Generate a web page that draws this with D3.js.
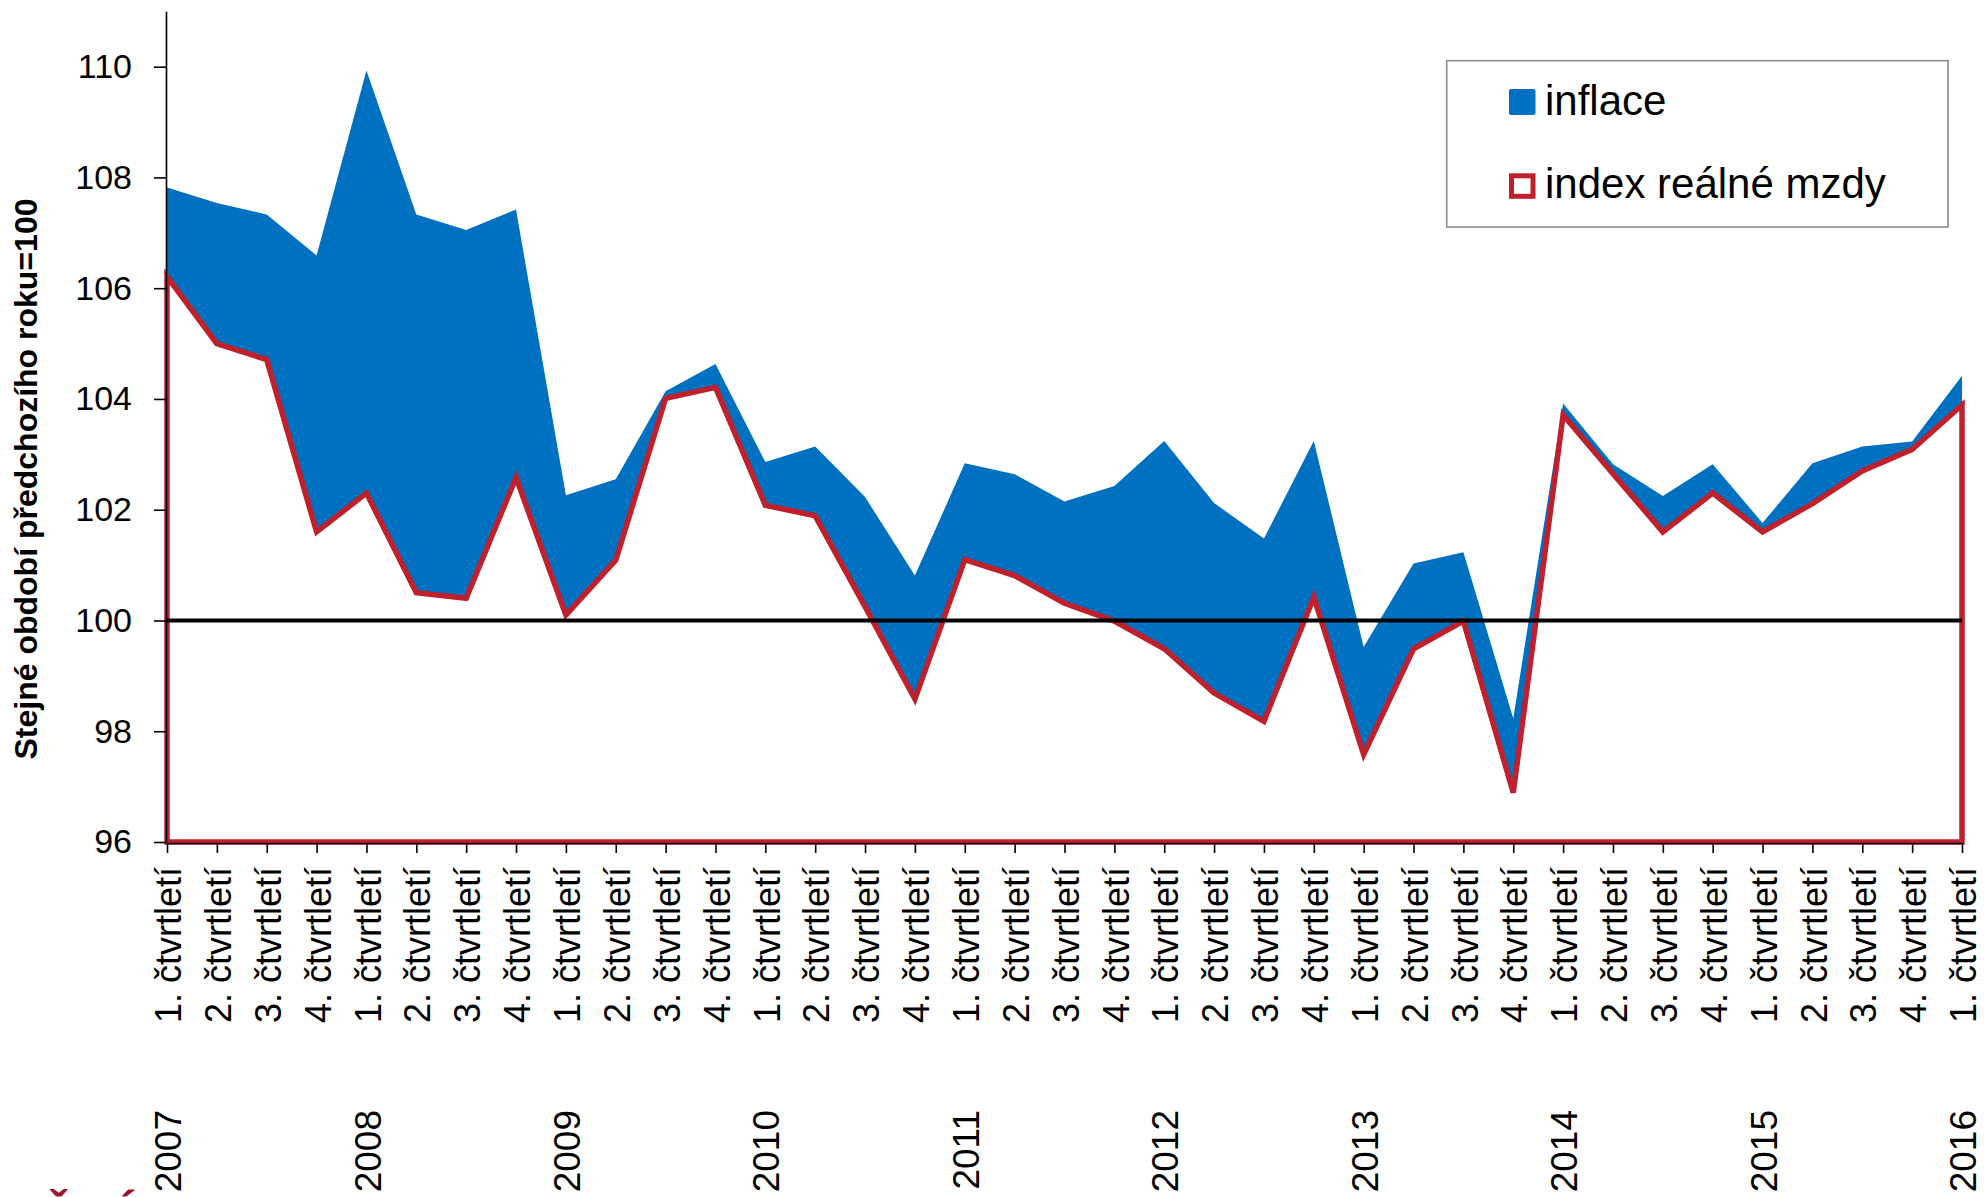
<!DOCTYPE html>
<html>
<head>
<meta charset="utf-8">
<script src="https://cdn.jsdelivr.net/npm/d3@7"></script>
<style>
  html, body { margin: 0; padding: 0; background: #ffffff; }
  svg { display: block; }
  text { font-family: "Liberation Sans", Arial, sans-serif; fill: #000; }
</style>
</head>
<body>
<svg id="chart" width="1984" height="1197"></svg>
<script>
// ---- data ----
const quarterLabels = [
  "1. čtvrtletí","2. čtvrtletí","3. čtvrtletí","4. čtvrtletí",
  "1. čtvrtletí","2. čtvrtletí","3. čtvrtletí","4. čtvrtletí",
  "1. čtvrtletí","2. čtvrtletí","3. čtvrtletí","4. čtvrtletí",
  "1. čtvrtletí","2. čtvrtletí","3. čtvrtletí","4. čtvrtletí",
  "1. čtvrtletí","2. čtvrtletí","3. čtvrtletí","4. čtvrtletí",
  "1. čtvrtletí","2. čtvrtletí","3. čtvrtletí","4. čtvrtletí",
  "1. čtvrtletí","2. čtvrtletí","3. čtvrtletí","4. čtvrtletí",
  "1. čtvrtletí","2. čtvrtletí","3. čtvrtletí","4. čtvrtletí",
  "1. čtvrtletí","2. čtvrtletí","3. čtvrtletí","4. čtvrtletí",
  "1. čtvrtletí"
];
const yearLabels = ["2007","2008","2009","2010","2011","2012","2013","2014","2015","2016"];
const yearStartIndex = [0, 4, 8, 12, 16, 20, 24, 28, 32, 36];

// top of blue area (nominal wage index, "inflace" band above real)
const inflace = [
  107.82, 107.54, 107.33, 106.59,
  109.93, 107.33, 107.05, 107.42,
  102.26, 102.55, 104.14, 104.63,
  102.86, 103.14, 102.23, 100.81,
  102.84, 102.64, 102.15, 102.43,
  103.24, 102.12, 101.48, 103.24,
  99.52, 101.03, 101.23, 98.23,
  103.92, 102.82, 102.25, 102.82,
  101.76, 102.84, 103.14, 103.23,
  104.42
];
// index reálné mzdy
const realnaMzda = [
  106.21, 105.00, 104.71, 101.60,
  102.30, 100.50, 100.40, 102.58,
  100.10, 101.09, 104.01, 104.21,
  102.08, 101.89, 100.25, 98.58,
  101.10, 100.81, 100.31, 99.99,
  99.49, 98.69, 98.18, 100.42,
  97.58, 99.49, 99.99, 96.89,
  103.71, 102.65, 101.60, 102.30,
  101.60, 102.11, 102.70, 103.09,
  103.89
];
const yTicks = [96, 98, 100, 102, 104, 106, 108, 110];
const seriesNames = ["inflace", "index reálné mzdy"];
const yTitle = "Stejné období předchozího roku=100";
const cornerMark = "ČSÚ";

// ---- layout ----
const svg = d3.select("#chart");
const BLUE = "#0070C0";
const RED = "#C0202B";

const x = d3.scalePoint()
  .domain(d3.range(quarterLabels.length))
  .range([167, 1962]);
const y = d3.scaleLinear().domain([96, 111]).range([842, 11.3]);

// blue area
const area = d3.area()
  .x((d, i) => x(i))
  .y0(y(96))
  .y1(d => y(d));
svg.append("path")
  .datum(inflace)
  .attr("d", area)
  .attr("fill", BLUE);

// red outlined, white filled area
svg.append("path")
  .datum(realnaMzda)
  .attr("d", area)
  .attr("fill", "#ffffff")
  .attr("stroke", RED)
  .attr("stroke-width", 5.5)
  .attr("stroke-linejoin", "miter");

// 100 reference line
svg.append("line")
  .attr("x1", x(0)).attr("x2", x(quarterLabels.length - 1))
  .attr("y1", y(100)).attr("y2", y(100))
  .attr("stroke", "#000").attr("stroke-width", 3.8);

// y axis
const yAxis = svg.append("g")
  .attr("transform", "translate(166,0)")
  .call(d3.axisLeft(y).tickValues(yTicks).tickSize(12).tickSizeOuter(0).tickPadding(22));
yAxis.select(".domain").attr("stroke", "#000").attr("stroke-width", 1.6);
yAxis.selectAll(".tick line").attr("stroke", "#000").attr("stroke-width", 1.6);
yAxis.selectAll(".tick text")
  .style("font-size", "34px")
  .style("font-family", "'Liberation Sans', Arial, sans-serif");

// x axis
const xAxis = svg.append("g")
  .attr("transform", "translate(0," + (y(96) + 1) + ")")
  .call(d3.axisBottom(x).tickSize(10).tickSizeOuter(0).tickFormat(i => quarterLabels[i]));
xAxis.select(".domain").attr("stroke", "#000").attr("stroke-width", 1.6);
xAxis.selectAll(".tick line").attr("stroke", "#000").attr("stroke-width", 1.6);
xAxis.selectAll(".tick text")
  .attr("transform", "rotate(-90)")
  .attr("x", -24)
  .attr("y", 0)
  .attr("dy", "0.38em")
  .attr("text-anchor", "end")
  .style("font-size", "36px")
  .style("font-family", "'Liberation Sans', Arial, sans-serif");

// year labels
const yearG = svg.append("g");
yearG.selectAll("text")
  .data(yearLabels)
  .join("text")
  .attr("transform", (d, i) => "translate(" + x(yearStartIndex[i]) + ",1110) rotate(-90)")
  .attr("dy", "0.38em")
  .attr("text-anchor", "end")
  .style("font-size", "37px")
  .text(d => d);

// y axis title
svg.append("text")
  .attr("transform", "translate(37,479) rotate(-90)")
  .attr("text-anchor", "middle")
  .style("font-size", "32px")
  .style("font-weight", "bold")
  .text(yTitle);

// legend
const lg = svg.append("g");
lg.append("rect")
  .attr("x", 1446.7).attr("y", 60.7)
  .attr("width", 501.3).attr("height", 166.3)
  .attr("fill", "#fff").attr("stroke", "#8c8c8c").attr("stroke-width", 1.6);
lg.append("rect")
  .attr("x", 1509).attr("y", 89).attr("width", 26.5).attr("height", 26)
  .attr("rx", 2).attr("fill", BLUE);
lg.append("rect")
  .attr("x", 1511.5).attr("y", 175.8).attr("width", 21.5).attr("height", 20.5)
  .attr("fill", "#fff").attr("stroke", RED).attr("stroke-width", 5);
lg.selectAll("text.leg")
  .data(seriesNames)
  .join("text")
  .attr("class", "leg")
  .attr("x", 1545)
  .attr("y", (d, i) => i === 0 ? 115.3 : 198.3)
  .style("font-size", "42px")
  .text(d => d);

// partially visible red mark at bottom-left corner (cropped in the original too)
svg.append("text")
  .attr("x", 40).attr("y", 1233)
  .style("font-size", "49px")
  .style("font-weight", "bold")
  .style("fill", "#A0142A")
  .text(cornerMark);
</script>
</body>
</html>
